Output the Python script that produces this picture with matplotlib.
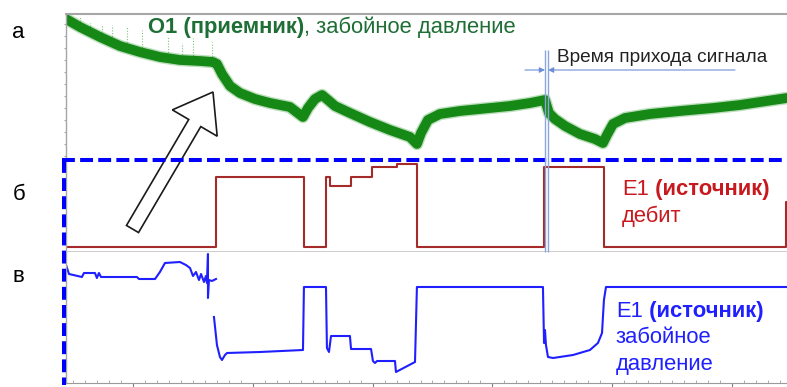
import matplotlib
matplotlib.use('Agg')
import matplotlib.pyplot as plt
import numpy as np
from matplotlib.patches import FancyArrow
from matplotlib.ticker import MultipleLocator

plt.rcParams['font.family'] = ['Liberation Sans', 'DejaVu Sans']

# time, days
T0, T1 = 4.41, 64.59

# O1 (observation well) bottomhole pressure
obs_t = [4.41, 5.58, 7.25, 8.91, 10.58, 12.25, 13.92, 15.59, 16.68, 17.01, 17.43, 18.10,
         18.93, 20.18, 21.44, 23.10, 24.19, 24.61, 25.19, 25.78, 26.28, 26.86, 28.11,
         29.78, 31.45, 33.12, 33.70, 34.04, 34.62, 35.62, 37.29, 38.96, 41.47, 43.14,
         44.39, 44.72, 45.22, 46.06, 47.31, 48.56, 49.23, 49.56, 50.07, 51.07, 53.15,
         55.66, 58.41, 60.67, 62.34, 64.59]
obs_p = [154.1, 153.3, 152.3, 151.4, 150.8, 150.3, 150.0, 149.9, 149.8, 149.6, 148.6, 147.4,
         146.7, 146.1, 145.7, 145.3, 144.3, 145.2, 146.1, 146.5, 146.0, 145.4, 144.7,
         143.8, 143.0, 142.3, 141.6, 142.7, 144.0, 144.6, 144.9, 145.1, 145.4, 145.7,
         146.0, 144.7, 144.1, 143.4, 142.6, 142.1, 141.7, 142.5, 143.6, 144.2, 144.6,
         144.9, 145.2, 145.5, 145.8, 146.2]

# spikes on the early part of the O1 record
spike_t = [5.58, 6.41, 7.41, 8.25, 9.50, 10.75, 12.92, 14.09, 15.01, 16.59]
spike_top = [154.3, 153.7, 153.5, 153.5, 153.3, 153.0, 152.3, 151.7, 152.2, 151.8]

# E1 (source well) rate, step changes
rate_t = [4.41, 16.93, 24.27, 26.11, 26.44, 28.20, 29.95, 32.04, 33.70, 44.31, 49.31, 64.51, 64.59]
rate_q = [0, 100, 0, 100, 87, 100, 114, 119, 0, 114, 0, 64, 64]

# E1 bottomhole pressure (NaN = gap in the record)
src_t = [4.41, 4.66, 5.74, 5.91, 6.83, 6.99, 7.16, 7.33, 10.33, 10.50, 11.84, 12.25, 12.67,
         13.92, 14.42, 14.76, 15.01, 15.26, 15.51, 15.68, 15.93, 16.09, 16.18, 16.26, 16.26,
         16.34, 16.59, 16.93, np.nan,
         16.76, 17.01, 17.26, 17.43, 17.68, 17.85, 20.60, 24.19, 24.27, 26.11, 26.19, 26.36,
         26.53, 28.11, 28.20, 29.87, 30.03, 30.20, 30.37, 31.87, 31.95, 33.54, 33.70, 44.22,
         44.31, 44.39, 44.47, 44.64, 45.06, 46.73, 48.14, 48.81, 49.15, 49.31, 49.48, 64.59]
src_p = [71.8, 70.9, 70.6, 71.0, 71.0, 70.5, 71.0, 70.6, 70.6, 70.4, 70.4, 71.1, 72.0,
         72.1, 71.8, 71.5, 70.7, 71.1, 70.3, 70.9, 70.1, 70.7, 70.0, 72.9, 68.5,
         70.3, 70.2, 70.4, np.nan,
         66.6, 63.8, 62.6, 62.3, 62.8, 63.0, 63.1, 63.3, 69.6, 69.6, 63.5, 63.1,
         64.7, 64.7, 63.4, 63.4, 62.2, 62.0, 62.2, 62.2, 61.1, 62.1, 69.6, 69.6,
         64.0, 65.3, 63.8, 62.6, 62.5, 62.8, 63.3, 64.0, 65.0, 68.3, 69.6, 69.6]

W, H = 787, 387
fig = plt.figure(figsize=(W / 100, H / 100), dpi=100)


def box(x0, y0, x1, y1):
    return [x0 / W, 1 - y1 / H, (x1 - x0) / W, (y1 - y0) / H]


ax_a = fig.add_axes(box(66, 14, 787, 160))
ax_b = fig.add_axes(box(66, 160, 787, 252))
ax_c = fig.add_axes(box(66, 252, 787, 383))

for ax in (ax_a, ax_b, ax_c):
    ax.set_xlim(T0, T1)
    ax.spines['right'].set_visible(False)
    ax.spines['left'].set_color('#a6a6a6')
    ax.spines['left'].set_linewidth(1)
    ax.set_xticks([])
    ax.set_yticks([])

# panel a
ax_a.set_ylim(140, 154.6)
ax_a.spines['bottom'].set_visible(False)
ax_a.spines['top'].set_color('#a6a6a6')
ax_a.spines['top'].set_linewidth(1.5)
ax_a.yaxis.set_major_locator(MultipleLocator(1.2))
ax_a.tick_params(axis='y', direction='out', length=1.5, color='#a6a6a6', labelleft=False)
ax_a.vlines(spike_t, np.interp(spike_t, obs_t, obs_p), spike_top,
            colors='#7cc47c', lw=0.8, linestyles=(0, (1, 1.5)))
ax_a.plot(obs_t, obs_p, color='#3fa33f', lw=9.0, alpha=0.35, solid_joinstyle='round')
ax_a.plot(obs_t, obs_p, color='#158815', lw=7.0, solid_joinstyle='round')

# panel б
ax_b.set_ylim(-7.1, 124.3)
ax_b.spines['top'].set_visible(False)
ax_b.spines['bottom'].set_color('#c8c8c8')
ax_b.spines['bottom'].set_linewidth(2)
ax_b.step(rate_t, rate_q, where='post', color='#a52a2a', lw=1.5)

# panel в
ax_c.set_ylim(60, 73.1)
ax_c.spines['top'].set_visible(False)
ax_c.spines['bottom'].set_color('#9a9a9a')
ax_c.xaxis.set_major_locator(MultipleLocator(10))
ax_c.xaxis.set_minor_locator(MultipleLocator(1))
ax_c.tick_params(axis='x', which='major', direction='out', length=4, color='#808080', labelbottom=False)
ax_c.tick_params(axis='x', which='minor', direction='in', length=2, color='#a0a0a0')
ax_c.plot(src_t, src_p, color='#1f1fff', lw=1.5)

# overlay in pixel coordinates for frames, arrows and labels
ov = fig.add_axes([0, 0, 1, 1])
ov.set_xlim(0, W)
ov.set_ylim(H, 0)
ov.axis('off')
ov.patch.set_alpha(0)

ov.add_patch(FancyArrow(132.5, 229, 80.5, -137, width=14, head_width=52, head_length=36,
                        length_includes_head=True, fc='white', ec='#1a1a1a', lw=1.2, zorder=2))

ov.plot([62, 787], [160, 160], color='#0000ff', lw=2.9, dashes=(3.2, 1.3), zorder=3)
ov.plot([64, 64], [160, 385], color='#0000ff', lw=2.9, dashes=(3.2, 1.3), zorder=3)

# signal arrival marker
ov.vlines([545, 548], 50, 252, colors='#8aa6dc', lw=1, zorder=4)
arrow_kw = dict(arrowstyle='-|>', color='#6b8fd6', lw=0.8, mutation_scale=8, shrinkA=0, shrinkB=0)
ov.annotate('', xy=(545, 70), xytext=(525, 70), arrowprops=arrow_kw)
ov.annotate('', xy=(548, 70), xytext=(735, 70), arrowprops=arrow_kw)
ov.text(557, 62, 'Время прихода сигнала', fontsize=13.7, color='#222222', va='baseline')

renderer = fig.canvas.get_renderer()


def rich_text(x, y, parts, size):
    for s, weight, color in parts:
        txt = ov.text(x, y, s, fontsize=size, fontweight=weight, color=color, va='baseline')
        bb = txt.get_window_extent(renderer=renderer)
        x = ov.transData.inverted().transform((bb.x1, bb.y0))[0]


green = '#1f6e36'
red = '#c8191e'
blue = '#1f1fff'
rich_text(148, 33, [('O1 (приемник)', 'bold', green), (', забойное давление', 'normal', green)], 15.8)
rich_text(622, 195, [('E1', 'normal', red), (' (источник)', 'bold', red)], 15.8)
ov.text(622, 222, 'дебит', fontsize=15.8, color=red, va='baseline')
rich_text(616, 317, [('E1', 'normal', blue), (' (источник)', 'bold', blue)], 15.8)
ov.text(616, 343, 'забойное', fontsize=15.8, color=blue, va='baseline')
ov.text(616, 370, 'давление', fontsize=15.8, color=blue, va='baseline')

for letter, x, y in [('а', 12, 38), ('б', 13, 200), ('в', 13, 282)]:
    ov.text(x, y, letter, fontsize=16, color='black', va='baseline')

fig.savefig('out.png', dpi=100)
